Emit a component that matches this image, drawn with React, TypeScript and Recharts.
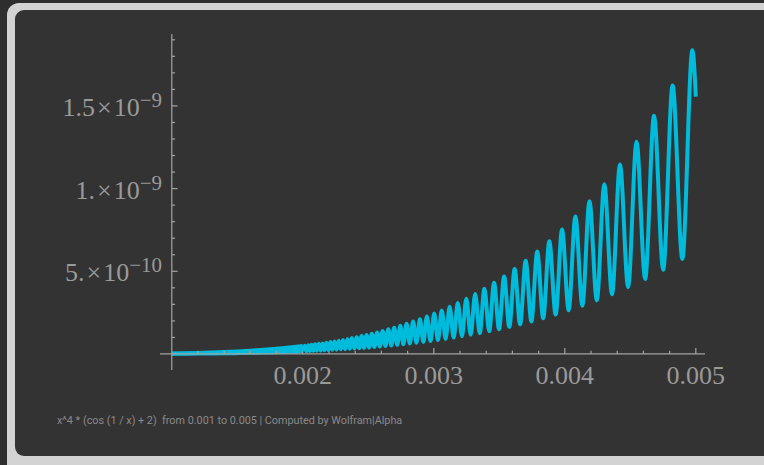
import { ComposedChart, Line, Area, XAxis, YAxis, ReferenceLine } from 'recharts';

// x in units of 0.001, y in units of 1e-10
// local minima / maxima of the curve, left to right
const extremaX = [
  2.002, 2.0146, 2.0274, 2.0405, 2.0536, 2.067, 2.0805, 2.0942, 2.108, 2.1221,
  2.1363, 2.1507, 2.1654, 2.1802, 2.1952, 2.2105, 2.2259, 2.2416, 2.2575, 2.2736,
  2.29, 2.3066, 2.3234, 2.3405, 2.3578, 2.3755, 2.3933, 2.4114, 2.4298, 2.4485,
  2.4675, 2.4868, 2.5064, 2.5263, 2.5465, 2.567, 2.5879, 2.6091, 2.6306, 2.6526,
  2.6749, 2.6975, 2.7206, 2.7441, 2.7679, 2.7922, 2.8169, 2.8421, 2.8677, 2.8937,
  2.9203, 2.9473, 2.9748, 3.0029, 3.0315, 3.0607, 3.0904, 3.1207, 3.1516, 3.1831,
  3.2152, 3.2481, 3.2815, 3.3157, 3.3506, 3.3863, 3.4227, 3.4599, 3.4979, 3.5368,
  3.5765, 3.6172, 3.6587, 3.7013, 3.7448, 3.7894, 3.835, 3.8818, 3.9298, 3.9789,
  4.0292, 4.0809, 4.1339, 4.1883, 4.2441, 4.3015, 4.3604, 4.421, 4.4832, 4.5473,
  4.6132, 4.681, 4.7509, 4.8229, 4.8971, 4.9736, 5.0,
];
const extremaY = [
  0.16, 0.49, 0.17, 0.52, 0.18, 0.55, 0.19, 0.58, 0.2, 0.61,
  0.21, 0.64, 0.22, 0.68, 0.23, 0.72, 0.25, 0.76, 0.26, 0.8,
  0.28, 0.85, 0.29, 0.9, 0.31, 0.96, 0.33, 1.01, 0.35, 1.08,
  0.37, 1.15, 0.39, 1.22, 0.42, 1.3, 0.45, 1.39, 0.48, 1.49,
  0.51, 1.59, 0.55, 1.7, 0.59, 1.82, 0.63, 1.96, 0.68, 2.1,
  0.73, 2.26, 0.78, 2.44, 0.84, 2.63, 0.91, 2.85, 0.99, 3.08,
  1.07, 3.34, 1.16, 3.63, 1.26, 3.94, 1.37, 4.3, 1.5, 4.69,
  1.64, 5.14, 1.79, 5.63, 1.97, 6.19, 2.16, 6.81, 2.38, 7.52,
  2.64, 8.32, 2.92, 9.23, 3.24, 10.27, 3.61, 11.46, 4.04, 12.83,
  4.53, 14.4, 5.09, 16.23, 5.75, 18.36, 15.56,
];

// dense part near the origin: drawn as a band between its lower and upper edge
const bandX = [1.0, 1.1, 1.2, 1.3, 1.4, 1.5, 1.6, 1.7, 1.8, 1.9, 2.0];
const bandLow = [0.01, 0.015, 0.021, 0.029, 0.038, 0.051, 0.066, 0.084, 0.105, 0.13, 0.16];
const bandHigh = [0.03, 0.044, 0.062, 0.086, 0.115, 0.152, 0.197, 0.251, 0.315, 0.391, 0.48];

const xTicks = [2, 3, 4, 5];
const xTickLabels = ['0.002', '0.003', '0.004', '0.005'];
const yTicks = [5, 10, 15];
const yTickMantissa = ['5.', '1.', '1.5'];
const yTickExponent = ['\u221210', '\u22129', '\u22129'];

const CURVE = '#00bcdc';
const AXIS = '#a3a3a3';
const LABEL = '#9a9a9a';

const data = [
  ...bandX.map((x, i) => ({ x, range: [bandLow[i], bandHigh[i]] })),
  ...extremaX.map((x, i) => ({ x, y: extremaY[i] })),
];

const minorX = Array.from({ length: 21 }, (_, i) => Math.round((1 + i * 0.2) * 10) / 10).filter((v) => v > 1);
const minorY = Array.from({ length: 21 }, (_, i) => i - 1).filter((v) => v !== 0);

const XTick = (props: any) => {
  const { x, y, payload } = props;
  const i = xTicks.indexOf(payload.value);
  return (
    <text x={x} y={y + 14} textAnchor="middle" fill={LABEL} fontSize={26} fontFamily="'Liberation Serif', serif">
      {xTickLabels[i]}
    </text>
  );
};

const YTick = (props: any) => {
  const { x, y, payload } = props;
  const i = yTicks.indexOf(payload.value);
  return (
    <text x={x + 2} y={y + 10} textAnchor="end" fill={LABEL} fontSize={26} fontFamily="'Liberation Serif', serif">
      <tspan>{yTickMantissa[i]}</tspan>
      <tspan dx={2}>{'\u00d7'}</tspan>
      <tspan dx={2}>10</tspan>
      <tspan fontSize={21} dy={-9}>{yTickExponent[i]}</tspan>
    </text>
  );
};

export default function App() {
  return (
    <div style={{ position: 'absolute', left: 0, top: 0, width: 764, height: 465, background: '#2e2e2e', overflow: 'hidden' }}>
      <div style={{ position: 'absolute', left: 7, top: 3, width: 775, height: 480, background: '#d3d3d3', borderRadius: 12 }} />
      <div style={{ position: 'absolute', left: 15, top: 10, width: 765, height: 446, background: '#333333', borderRadius: 9 }} />
      <div style={{ position: 'absolute', left: 0, top: 0 }}>
        <ComposedChart width={764} height={465} data={data} margin={{ top: 34, right: 59, bottom: 65, left: 10 }}>
          <XAxis
            type="number"
            dataKey="x"
            domain={[0.91, 5.07]}
            ticks={xTicks}
            axisLine={false}
            tickLine={false}
            tickSize={0}
            tickMargin={0}
            height={30}
            tick={<XTick />}
            allowDataOverflow
          />
          <YAxis
            type="number"
            domain={[-0.97, 19.35]}
            ticks={yTicks}
            axisLine={false}
            tickLine={false}
            tickSize={0}
            tickMargin={0}
            width={150}
            tick={<YTick />}
            allowDataOverflow
          />
          <ReferenceLine y={0} stroke={AXIS} strokeWidth={1.2} />
          <ReferenceLine x={1} stroke={AXIS} strokeWidth={1.2} />
          {minorX.map((v) => (
            <ReferenceLine
              key={'xt' + v}
              stroke={AXIS}
              strokeWidth={1.2}
              segment={[{ x: v, y: 0 }, { x: v, y: xTicks.includes(v) ? 0.36 : 0.2 }]}
            />
          ))}
          {minorY.map((v) => (
            <ReferenceLine
              key={'yt' + v}
              stroke={AXIS}
              strokeWidth={1.2}
              segment={[{ x: 1, y: v }, { x: v % 5 === 0 ? 1.045 : 1.025, y: v }]}
            />
          ))}
          <Area
            type="monotone"
            dataKey="range"
            stroke={CURVE}
            strokeWidth={4}
            fill={CURVE}
            fillOpacity={1}
            connectNulls
            isAnimationActive={false}
          />
          <Line
            type="monotone"
            dataKey="y"
            stroke={CURVE}
            strokeWidth={4}
            dot={false}
            connectNulls
            isAnimationActive={false}
          />
        </ComposedChart>
      </div>
      <div
        style={{
          position: 'absolute',
          left: 57,
          top: 414,
          fontFamily: 'Roboto, sans-serif',
          fontSize: 10.8,
          color: '#8a8a8a',
          whiteSpace: 'pre',
        }}
      >
        {'x^4 * (cos (1 / x) + 2)  from 0.001 to 0.005 | Computed by Wolfram|Alpha'}
      </div>
    </div>
  );
}
